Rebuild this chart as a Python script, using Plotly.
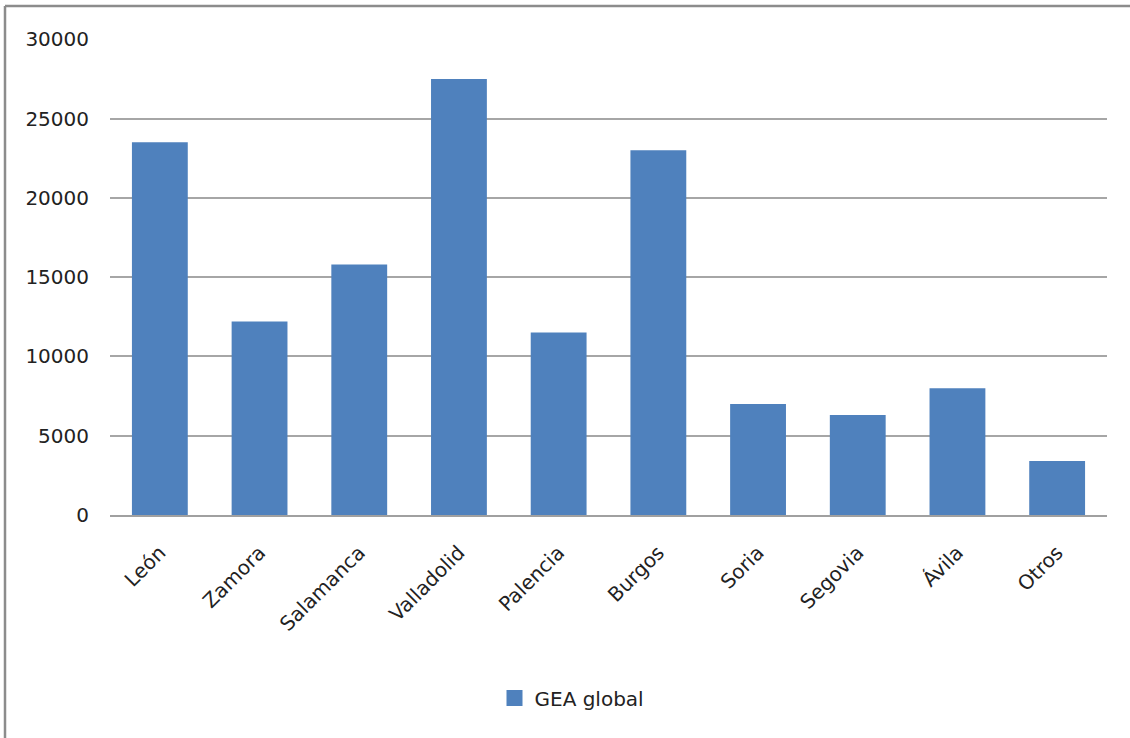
import plotly.graph_objects as go

categories = ["León", "Zamora", "Salamanca", "Valladolid", "Palencia",
              "Burgos", "Soria", "Segovia", "Ávila", "Otros"]
values = [23500, 12200, 15800, 27500, 11500, 23000, 7000, 6300, 8000, 3400]
series_name = "GEA global"
y_ticks = [0, 5000, 10000, 15000, 20000, 25000, 30000]
y_tick_text = [str(v) for v in y_ticks]

W, H = 1130, 738
L, R, T, B = 110, 23, 39, 223
pw, ph = W - L - R, H - T - B
color = "#4F81BD"

def px_x(p):
    return (p - L) / pw

def px_y(p):
    return (H - B - p) / ph

fig = go.Figure()
fig.add_trace(go.Bar(x=categories, y=values, name=series_name, showlegend=False,
                     marker=dict(color=color, line=dict(width=0))))
fig.add_trace(go.Scatter(x=[None], y=[None], mode="markers", name=series_name,
                         marker=dict(symbol="square", size=17, color=color),
                         showlegend=True, hoverinfo="skip"))

font = dict(family="DejaVu Sans", size=20, color="#222222")

fig.update_layout(
    width=W, height=H,
    margin=dict(l=L, r=R, t=T, b=B),
    paper_bgcolor="white", plot_bgcolor="white",
    font=font,
    bargap=0.44,
    showlegend=True,
    legend=dict(orientation="h", x=px_x(572), xanchor="center",
                y=px_y(698), yanchor="middle",
                font=font, itemwidth=30),
    xaxis=dict(showgrid=False, showline=True, linecolor="#A0A0A0", linewidth=2,
               tickangle=-45, ticks="", ticklabelstandoff=16, tickfont=font),
    yaxis=dict(range=[0, 30015], tickvals=y_ticks, ticktext=y_tick_text,
               showgrid=True, gridcolor="#A6A6A6", gridwidth=1.5, zeroline=False,
               showline=False, ticks="", ticklabelstandoff=20, tickfont=font),
    shapes=[
        dict(type="line", xref="paper", yref="paper",
             x0=px_x(5), x1=px_x(5), y0=px_y(6), y1=px_y(745),
             line=dict(color="#8C8C8C", width=2.5)),
        dict(type="line", xref="paper", yref="paper",
             x0=px_x(5), x1=px_x(1140), y0=px_y(6), y1=px_y(6),
             line=dict(color="#8C8C8C", width=2.5)),
    ],
)

fig.write_html("out.html", config={"displayModeBar": False},
               post_script="document.body.style.margin='0';document.body.style.overflow='hidden';")
